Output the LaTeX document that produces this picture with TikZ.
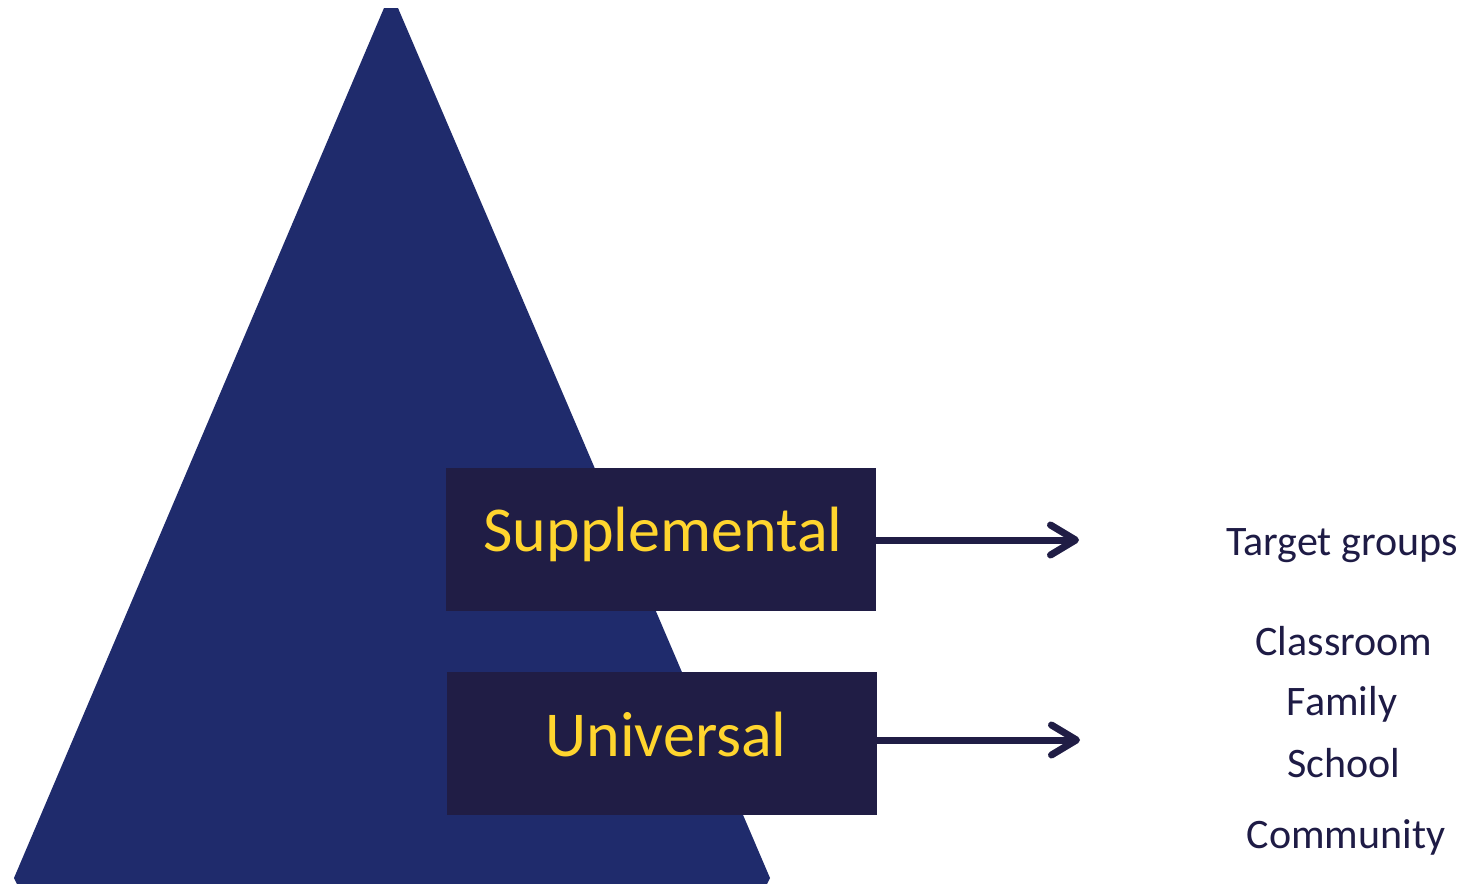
\documentclass[tikz,border=0pt]{standalone}
\usepackage{fontspec}
\setmainfont{Carlito}
\usetikzlibrary{arrows.meta}
\definecolor{pyramid}{HTML}{1F2B6C}
\definecolor{tierbox}{HTML}{201D45}
\definecolor{tiertext}{HTML}{FFD52E}
\definecolor{ink}{HTML}{1E1B45}
\begin{document}
\begin{tikzpicture}[x=1pt,y=-1pt,
  tier/.style={fill=tierbox,draw=none,minimum width=430pt,minimum height=143pt,
    inner sep=0pt},
  tierlabel/.style={anchor=base,inner sep=0pt,text=tiertext,font=\fontsize{64}{76}\selectfont},
  group/.style={text=ink,anchor=base,inner sep=0pt,font=\fontsize{42}{50}\selectfont},
  pointer/.style={draw=tierbox,line width=7pt,
    -{Straight Barb[length=25pt,width=30pt,line cap=round,line join=round]}}]
\useasboundingbox (0,0) rectangle (1468,884);
% pyramid
\fill[pyramid] (384,8) -- (398,8) -- (770,878) -- (767,884) -- (17,884) -- (14,878) -- cycle;
% tiers
\node[tier] (supp) at (661,539.5) {};
\node[tier] (univ) at (662,743.5) {};
\node[tierlabel] (supptext) at (663,551) {Supplemental};
\node[tierlabel] (univtext) at (666,756) {Universal};
% arrows
\coordinate (suppend) at (1079,540);
\coordinate (univend) at (1080,740);
\draw[pointer] (supp.east |- suppend) -- (suppend);
\draw[pointer] (univ.east |- univend) -- (univend);
% groups
\node[group] (target) at (1342,555) {Target groups};
\node[group] (classroom) at (1344,655) {Classroom};
\node[group] (family) at (1342,715) {Family};
\node[group] (school) at (1344,777) {School};
\node[group] (community) at (1346,848) {Community};
\end{tikzpicture}
\end{document}
